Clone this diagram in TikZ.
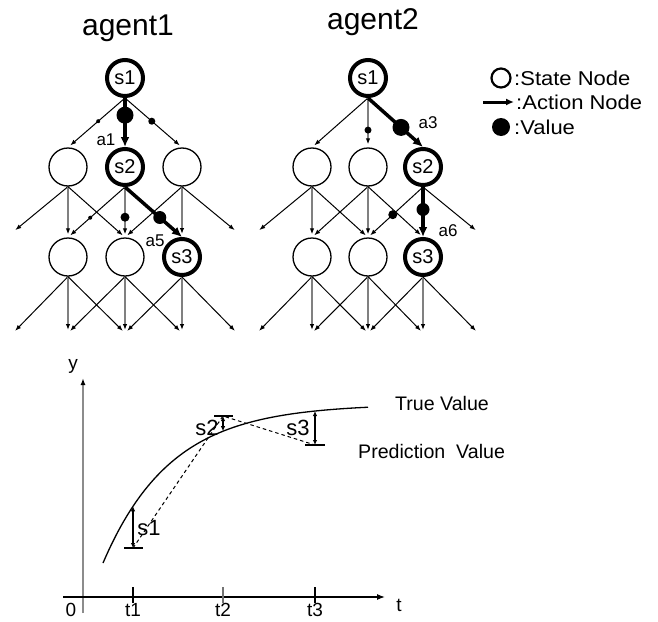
\documentclass[tikz,border=0pt]{standalone}
\usepackage{fontspec}
\setmainfont{Liberation Sans}
\usetikzlibrary{arrows.meta}
\begin{document}
\begin{tikzpicture}[x=1pt,y=-1pt,
  declare function={tv(\x)=404+159*exp(-(\x-103)/68);},
  state/.style={circle,draw,line width=1.3pt,minimum size=38pt,inner sep=0pt,
    font=\fontsize{20}{22}\selectfont},
  key/.style={state,line width=4pt,minimum size=36pt},
  edge/.style={line width=1pt,-{Latex[length=6pt,width=4.5pt,color=black]},shorten >=3pt},
  vedge/.style={edge,draw=black!50,line width=1.4pt},
  bold/.style={line width=3.5pt,-{Latex[length=10pt,width=9pt]}},
  vdot/.style={circle,fill=black,draw=none,inner sep=0pt,minimum size=#1},
  lab/.style={inner sep=0pt,font=\fontsize{17}{19}\selectfont},
  title/.style={inner sep=0pt,font=\fontsize{30}{34}\selectfont},
  legtext/.style={inner sep=0pt,anchor=west,xscale=1.1,font=\fontsize{20}{22}\selectfont},
  plab/.style={inner sep=0pt,font=\fontsize{22}{24}\selectfont},
  axlab/.style={inner sep=0pt,font=\fontsize{19}{21}\selectfont},
  bar/.style={line width=1.1pt,{Latex[length=5pt,width=4.5pt]}-{Latex[length=5pt,width=4.5pt]}},
  tick/.style={line width=1.1pt},
  pred/.style={line width=1pt,dash pattern=on 3.5pt off 3pt}]
\useasboundingbox (0,0) rectangle (658,621);

% ---------- agent 1 ----------
\node[title] (t1) at (128,28) {agent1};
\node[key]   (a1s1) at (125,78)  {s1};
\node[state] (a1l)  at (68,167)  {};
\node[key]   (a1s2) at (125,167) {s2};
\node[state] (a1r)  at (182,167) {};
\node[state] (a1ll) at (68,257)  {};
\node[state] (a1lm) at (125,257) {};
\node[key]   (a1s3) at (182,257) {s3};
\coordinate (a1o1) at (13,232);
\coordinate (a1o2) at (237,232);
\coordinate (a1b1) at (13,333);
\coordinate (a1b2) at (68,333);
\coordinate (a1b3) at (125,333);
\coordinate (a1b4) at (182,333);
\coordinate (a1b5) at (237,333);

\draw[edge] (a1s1.south) -- node[vdot=4pt,pos=.47]{} (a1l.north);
\draw[edge] (a1s1.south) -- node[vdot=7pt,pos=.47]{} (a1r.north);
\draw[bold] (a1s1.south) -- node[vdot=17pt,pos=.35]{} (a1s2.north);

\draw[edge]  (a1l.south) -- (a1o1);
\draw[vedge] (a1l.south) -- (a1ll.north);
\draw[edge]  (a1l.south) -- (a1lm.north);
\draw[edge]  (a1s2.south) -- node[vdot=4pt,pos=.61]{} (a1ll.north);
\draw[vedge] (a1s2.south) -- node[vdot=9pt,pos=.6]{} (a1lm.north);
\draw[edge]  (a1r.south) -- (a1lm.north);
\draw[vedge] (a1r.south) -- (a1s3.north);
\draw[edge]  (a1r.south) -- (a1o2);
\draw[bold]  (a1s2.south) -- node[vdot=13pt,pos=.61]{} (a1s3.north);

\draw[edge]  (a1ll.south) -- (a1b1);
\draw[vedge] (a1ll.south) -- (a1b2);
\draw[edge]  (a1ll.south) -- (a1b3);
\draw[edge]  (a1lm.south) -- (a1b2);
\draw[vedge] (a1lm.south) -- (a1b3);
\draw[edge]  (a1lm.south) -- (a1b4);
\draw[edge]  (a1s3.south) -- (a1b3);
\draw[vedge] (a1s3.south) -- (a1b4);
\draw[edge]  (a1s3.south) -- (a1b5);

\node[lab] (la1) at (106,140) {a1};
\node[lab] (la5) at (155,241) {a5};

% ---------- agent 2 ----------
\node[title] (t2) at (373,22) {agent2};
\node[key]   (a2s1) at (368,78)  {s1};
\node[state] (a2l)  at (312,167) {};
\node[state] (a2m)  at (368,167) {};
\node[key]   (a2s2) at (423,167) {s2};
\node[state] (a2ll) at (312,257) {};
\node[state] (a2lm) at (368,257) {};
\node[key]   (a2s3) at (423,257) {s3};
\coordinate (a2o1) at (257,232);
\coordinate (a2o2) at (478,232);
\coordinate (a2b1) at (257,333);
\coordinate (a2b2) at (312,333);
\coordinate (a2b3) at (368,333);
\coordinate (a2b4) at (423,333);
\coordinate (a2b5) at (478,333);

\draw[edge]  (a2s1.south) -- (a2l.north);
\draw[vedge] (a2s1.south) -- node[vdot=7pt,pos=.65]{} (a2m.north);
\draw[bold]  (a2s1.south) -- node[vdot=17pt,pos=.6]{} (a2s2.north);

\draw[edge]  (a2l.south) -- (a2o1);
\draw[vedge] (a2l.south) -- (a2ll.north);
\draw[edge]  (a2l.south) -- (a2lm.north);
\draw[edge]  (a2m.south) -- (a2ll.north);
\draw[vedge] (a2m.south) -- (a2lm.north);
\draw[edge]  (a2m.south) -- (a2s3.north);
\draw[edge]  (a2s2.south) -- node[vdot=9pt,pos=.55]{} (a2lm.north);
\draw[edge]  (a2s2.south) -- (a2o2);
\draw[bold]  (a2s2.south) -- node[vdot=13pt,pos=.45]{} (a2s3.north);

\draw[edge]  (a2ll.south) -- (a2b1);
\draw[vedge] (a2ll.south) -- (a2b2);
\draw[edge]  (a2ll.south) -- (a2b3);
\draw[edge]  (a2lm.south) -- (a2b2);
\draw[vedge] (a2lm.south) -- (a2b3);
\draw[edge]  (a2lm.south) -- (a2b4);
\draw[edge]  (a2s3.south) -- (a2b3);
\draw[vedge] (a2s3.south) -- (a2b4);
\draw[edge]  (a2s3.south) -- (a2b5);

\node[lab] (la3) at (428,123) {a3};
\node[lab] (la6) at (448,231) {a6};

% ---------- legend ----------
\node[circle,draw,line width=2.2pt,minimum size=19pt,inner sep=0pt] (lgs) at (501,78) {};
\node[legtext] (lgst) at (514,78) {:State Node};
\coordinate (lga0) at (483,102);
\coordinate (lga1) at (514,102);
\draw[line width=3pt,-{Latex[length=8pt,width=7pt]}] (lga0) -- (lga1);
\node[legtext] (lgat) at (516,102) {:Action Node};
\node[vdot=18pt] (lgv) at (501,127) {};
\node[legtext] (lgvt) at (514,127) {:Value};

% ---------- value plot ----------
\coordinate (ybot) at (83,613);
\coordinate (ytop) at (83,378);
\coordinate (xl) at (63,597);
\coordinate (xr) at (385,597);
\draw[line width=2pt,draw=black!45,-{Latex[length=7pt,width=5pt,color=black]}] (ybot) -- (ytop);
\draw[line width=1.2pt,-{Latex[length=8pt,width=6pt]}] (xl) -- (xr);

\coordinate (k1a) at (133,587); \coordinate (k1b) at (133,603);
\coordinate (k2a) at (223,587); \coordinate (k2b) at (223,603);
\coordinate (k3a) at (315,587); \coordinate (k3b) at (315,603);
\draw[tick] (k1a) -- (k1b);
\draw[tick,draw=black!55] (k2a) -- (k2b);
\draw[tick] (k3a) -- (k3b);

\node[axlab] (lo)  at (71,610)  {0};
\node[axlab] (lt1) at (133,610) {t1};
\node[axlab] (lt2) at (223,610) {t2};
\node[axlab] (lt3) at (315,610) {t3};
\node[axlab] (lt)  at (399,605) {t};
\node[axlab] (ly)  at (73,366)  {y};

% true value curve
\draw[line width=1.3pt] plot[domain=103:368,samples=90] (\x,{tv(\x)});

% true and predicted values at t1, t2, t3
\coordinate (c1) at (133,{tv(133)});
\coordinate (c2) at (223,{tv(223)});
\coordinate (c3) at (315,{tv(315)});
\coordinate (p1) at (133,548);
\coordinate (p2) at (223,416);
\coordinate (p3) at (315,445);

\draw[pred] (p1) -- (p2) -- (p3);

\draw[bar] (c1) -- (p1);
\draw[bar] (p2) -- (c2);
\draw[bar] (c3) -- (p3);
\draw[tick] ([xshift=-9pt]p1) -- ([xshift=10pt]p1);
\draw[tick] ([xshift=-9pt]p2) -- ([xshift=10pt]p2);
\draw[tick] ([xshift=-10pt]p3) -- ([xshift=10pt]p3);

\node[plab] (ls1) at (149,528) {s1};
\node[plab] (ls2) at (207,428) {s2};
\node[plab] (ls3) at (298,428) {s3};

\node[inner sep=0pt,anchor=west,font=\fontsize{19.6}{22}\selectfont] (ltrue) at (395,403) {True Value};
\node[inner sep=0pt,anchor=west,font=\fontsize{19.6}{22}\selectfont] (lpred) at (358,451) {Prediction\ \ Value};
\end{tikzpicture}
\end{document}
